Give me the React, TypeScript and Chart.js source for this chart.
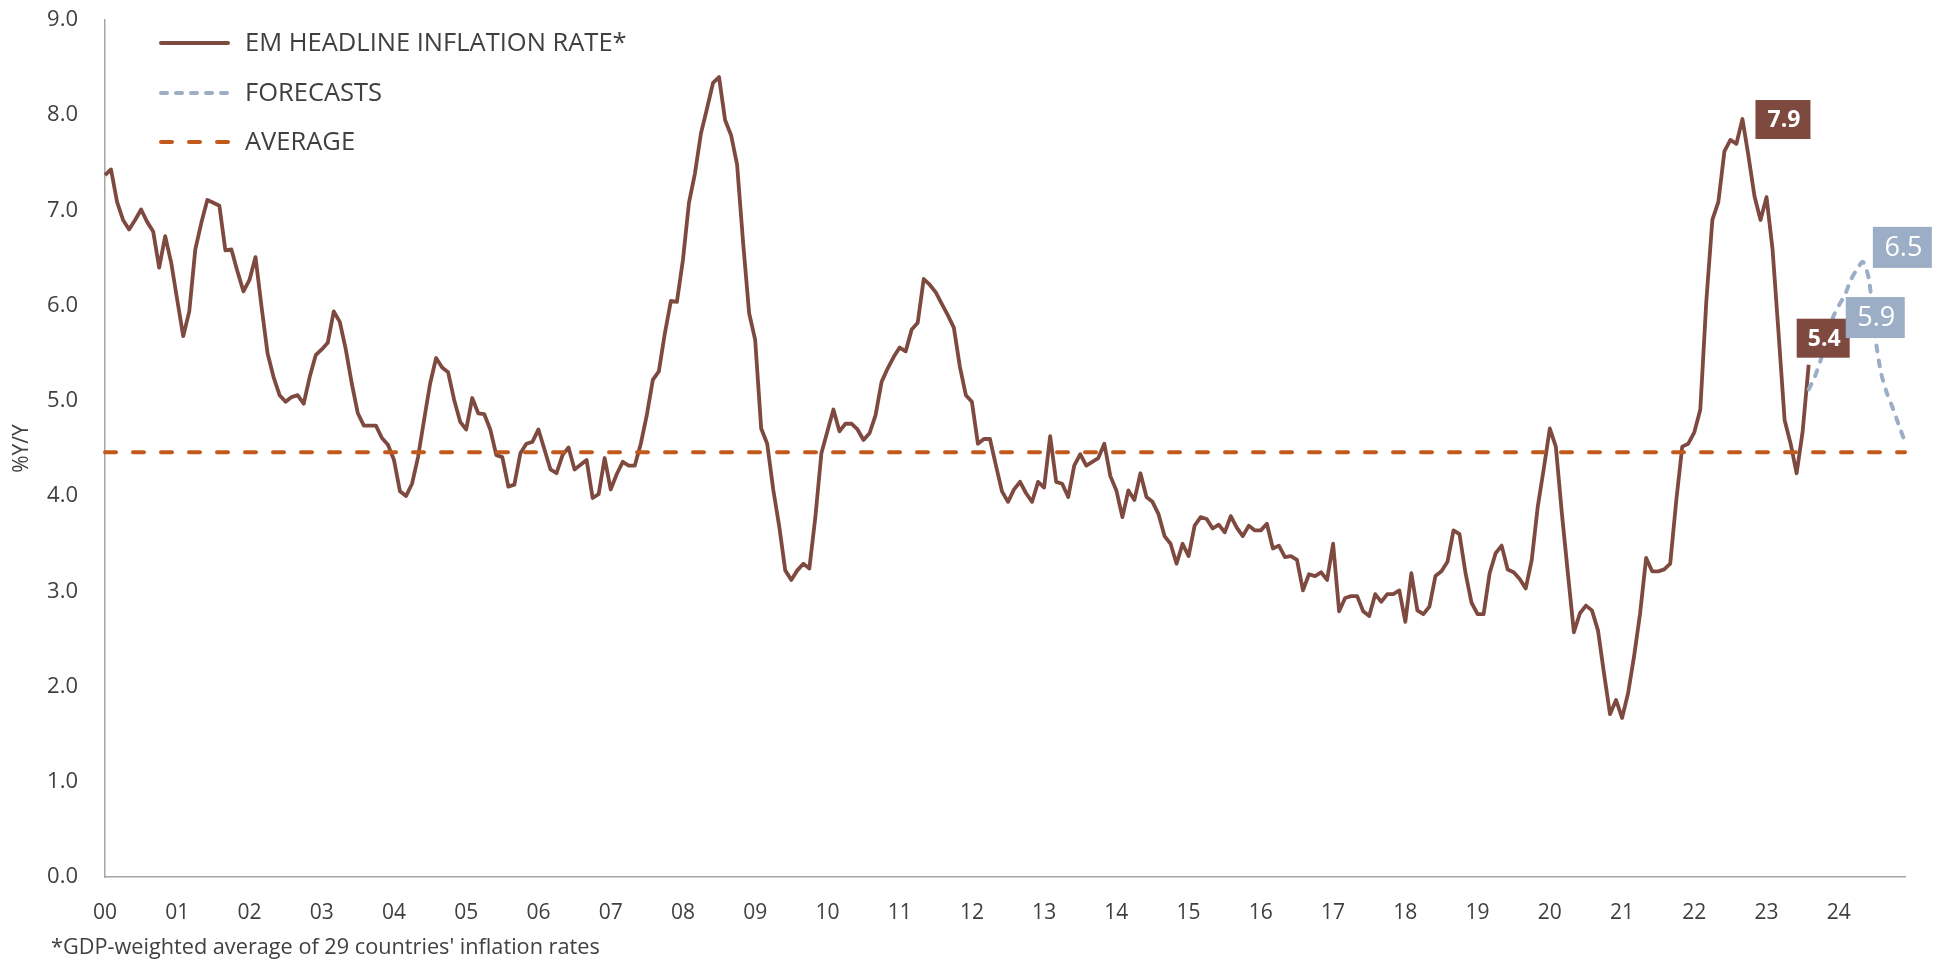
import React, { useEffect, useRef } from 'react';
import { Chart, registerables } from 'chart.js';

Chart.register(...registerables);

// ---------- DATA ----------
const YEAR_LABELS = ['00','01','02','03','04','05','06','07','08','09','10','11','12','13','14','15','16','17','18','19','20','21','22','23','24'];
const MONTHS = ['01','02','03','04','05','06','07','08','09','10','11','12'];
const CATEGORIES = YEAR_LABELS.flatMap((y) => MONTHS.map((m) => `${y}-${m}`));

const ACTUAL = [
  7.37, 7.43, 7.09, 6.90, 6.80, 6.90, 7.01, 6.88, 6.78, 6.40, 6.73, 6.45,
  6.06, 5.68, 5.94, 6.59, 6.87, 7.11, 7.08, 7.05, 6.58, 6.59, 6.36, 6.15,
  6.27, 6.51, 5.99, 5.50, 5.25, 5.06, 4.99, 5.04, 5.06, 4.97, 5.25, 5.48,
  5.54, 5.61, 5.94, 5.83, 5.54, 5.18, 4.87, 4.74, 4.74, 4.74, 4.61, 4.54,
  4.38, 4.05, 4.00, 4.13, 4.41, 4.80, 5.18, 5.45, 5.35, 5.30, 5.01, 4.78,
  4.70, 5.03, 4.87, 4.86, 4.70, 4.43, 4.41, 4.10, 4.12, 4.45, 4.55, 4.57,
  4.70, 4.49, 4.28, 4.24, 4.43, 4.51, 4.28, 4.33, 4.38, 3.98, 4.02, 4.40,
  4.07, 4.23, 4.36, 4.32, 4.32, 4.55, 4.85, 5.22, 5.31, 5.71, 6.05, 6.04,
  6.48, 7.08, 7.39, 7.81, 8.07, 8.34, 8.40, 7.95, 7.79, 7.48, 6.66, 5.92,
  5.64, 4.71, 4.55, 4.07, 3.68, 3.22, 3.12, 3.22, 3.29, 3.24, 3.78, 4.45,
  4.68, 4.91, 4.68, 4.76, 4.76, 4.70, 4.59, 4.66, 4.85, 5.20, 5.34, 5.46,
  5.56, 5.52, 5.75, 5.82, 6.28, 6.22, 6.14, 6.02, 5.90, 5.77, 5.36, 5.06,
  4.99, 4.55, 4.60, 4.60, 4.32, 4.05, 3.94, 4.07, 4.15, 4.03, 3.94, 4.15,
  4.09, 4.63, 4.15, 4.13, 3.99, 4.32, 4.44, 4.32, 4.36, 4.40, 4.55, 4.21,
  4.06, 3.78, 4.06, 3.96, 4.24, 3.99, 3.94, 3.81, 3.58, 3.50, 3.29, 3.50,
  3.37, 3.69, 3.78, 3.76, 3.66, 3.70, 3.62, 3.79, 3.67, 3.58, 3.69, 3.64,
  3.64, 3.71, 3.45, 3.48, 3.36, 3.37, 3.33, 3.01, 3.18, 3.16, 3.20, 3.12,
  3.50, 2.79, 2.93, 2.95, 2.95, 2.79, 2.74, 2.97, 2.89, 2.97, 2.97, 3.01,
  2.68, 3.19, 2.80, 2.76, 2.84, 3.16, 3.21, 3.31, 3.64, 3.60, 3.19, 2.88,
  2.76, 2.76, 3.19, 3.40, 3.48, 3.23, 3.20, 3.13, 3.03, 3.33, 3.89, 4.29,
  4.71, 4.52, 3.82, 3.19, 2.57, 2.77, 2.85, 2.80, 2.59, 2.14, 1.71, 1.86,
  1.67, 1.93, 2.32, 2.77, 3.35, 3.21, 3.21, 3.23, 3.29, 3.95, 4.52, 4.55,
  4.67, 4.91, 6.05, 6.90, 7.09, 7.62, 7.74, 7.70, 7.96, 7.57, 7.15, 6.90,
  7.14, 6.59, 5.71, 4.80, 4.55, 4.24, 4.68, 5.38,
];

const FORECAST_START = 283;
const FORECAST = [5.12, 5.25, 5.43, 5.62, 5.87, 6.00, 6.11, 6.27, 6.38, 6.46, 6.28, 5.70, 5.30, 5.08, 4.92, 4.74, 4.57];

const AVERAGE = 4.46;

const CALLOUTS = [
  { series: 'actual', index: 272, text: '7.9' },
  { series: 'actual', index: 283, text: '5.4' },
  { series: 'forecast', index: 287, text: '5.9' },
  { series: 'forecast', index: 292, text: '6.5' },
];

const LEGEND_LABELS = ['EM HEADLINE INFLATION RATE*', 'FORECASTS', 'AVERAGE'];
const Y_TITLE = '%Y/Y';
const FOOTNOTE = "*GDP-weighted average of 29 countries' inflation rates";

// ---------- STYLE ----------
const FONT = "'Open Sans', 'Noto Sans', sans-serif";
const TEXT = '#404040';
const BROWN = '#7E4A3F';
const BLUE = '#9BAEC5';
const ORANGE = '#C25A1D';
const AXIS = '#A6A6A6';

const CALLOUT_STYLES = [
  { dx: 13, dy: -19, w: 55, h: 39, bg: BROWN, weight: 'bold', size: 23 },
  { dx: -12, dy: -46, w: 53, h: 39, bg: BROWN, weight: 'bold', size: 23 },
  { dx: 13, dy: -21, w: 59, h: 41, bg: BLUE, weight: 'normal', size: 27 },
  { dx: 10, dy: -35, w: 59, h: 41, bg: BLUE, weight: 'normal', size: 27 },
];

const overlayPlugin = {
  id: 'overlay',
  afterDraw(chart: any) {
    const ctx = chart.ctx as CanvasRenderingContext2D;
    const xs = chart.scales.x;
    const ys = chart.scales.y;

    // callouts
    CALLOUTS.forEach((c, k) => {
      const st = CALLOUT_STYLES[k];
      const v = c.series === 'actual' ? ACTUAL[c.index] : FORECAST[c.index - FORECAST_START];
      const px = xs.getPixelForValue(c.index);
      const py = ys.getPixelForValue(v);
      const left = px + st.dx;
      const top = py + st.dy;
      ctx.save();
      ctx.fillStyle = st.bg;
      ctx.fillRect(left, top, st.w, st.h);
      ctx.font = `${st.weight} ${st.size}px ${FONT}`;
      ctx.fillStyle = '#FFFFFF';
      ctx.textAlign = 'center';
      ctx.textBaseline = 'middle';
      ctx.fillText(c.text, left + st.w / 2 + 1, top + st.h / 2 + 1);
      ctx.restore();
    });

    // legend
    const lx0 = 161;
    const lx1 = 228;
    const rows = [43, 93, 142];
    ctx.save();
    ctx.lineCap = 'round';
    ctx.lineWidth = 4;
    ctx.strokeStyle = BROWN;
    ctx.setLineDash([]);
    ctx.beginPath(); ctx.moveTo(lx0, rows[0]); ctx.lineTo(lx1, rows[0]); ctx.stroke();
    ctx.strokeStyle = BLUE;
    ctx.setLineDash([6, 9]);
    ctx.beginPath(); ctx.moveTo(lx0, rows[1]); ctx.lineTo(lx1, rows[1]); ctx.stroke();
    ctx.strokeStyle = ORANGE;
    ctx.setLineDash([11, 17]);
    ctx.beginPath(); ctx.moveTo(lx0, rows[2]); ctx.lineTo(lx1 + 2, rows[2]); ctx.stroke();
    ctx.setLineDash([]);
    ctx.font = `25.5px ${FONT}`;
    ctx.fillStyle = TEXT;
    ctx.textAlign = 'left';
    ctx.textBaseline = 'middle';
    LEGEND_LABELS.forEach((t, k) => ctx.fillText(t, 245, rows[k] + 1));

    // footnote
    ctx.font = `21.7px ${FONT}`;
    ctx.fillText(FOOTNOTE, 51, 948);
    ctx.restore();
  },
};

export default function App() {
  const ref = useRef<HTMLCanvasElement | null>(null);

  useEffect(() => {
    if (!ref.current) return;
    const actualData = CATEGORIES.map((_, i) => (i < ACTUAL.length ? ACTUAL[i] : null));
    const forecastData = CATEGORIES.map((_, i) =>
      i >= FORECAST_START && i < FORECAST_START + FORECAST.length ? FORECAST[i - FORECAST_START] : null
    );
    const averageData = CATEGORIES.map(() => AVERAGE);

    const chart = new Chart(ref.current, {
      type: 'line',
      data: {
        labels: CATEGORIES,
        datasets: [
          {
            label: 'AVERAGE',
            data: averageData,
            borderColor: ORANGE,
            borderWidth: 4,
            borderDash: [11, 17],
            borderCapStyle: 'round',
            pointRadius: 0,
            order: 0,
          },
          {
            label: 'FORECASTS',
            data: forecastData,
            borderColor: BLUE,
            borderWidth: 4,
            borderDash: [6, 9],
            borderCapStyle: 'round',
            pointRadius: 0,
            tension: 0.25,
            order: 1,
          },
          {
            label: 'EM HEADLINE INFLATION RATE*',
            data: actualData,
            borderColor: BROWN,
            borderWidth: 3.8,
            borderJoinStyle: 'round',
            pointRadius: 0,
            tension: 0,
            order: 2,
          },
        ],
      },
      options: {
        responsive: false,
        animation: false,
        layout: { padding: { top: 20, right: 38, bottom: 0, left: 0 } },
        plugins: {
          legend: { display: false },
          tooltip: { enabled: false },
        },
        scales: {
          x: {
            type: 'category',
            grid: { display: false, drawTicks: false },
            border: { display: true, color: AXIS, width: 1.5 },
            ticks: {
              autoSkip: false,
              maxRotation: 0,
              minRotation: 0,
              padding: 23,
              color: TEXT,
              font: { size: 21, family: FONT },
              callback: (_v: any, i: number) => (i % 12 === 0 ? YEAR_LABELS[i / 12] : ''),
            },
            afterFit: (s: any) => {
              s.height = 84;
              s.paddingLeft = 0;
              s.paddingRight = 0;
            },
          },
          y: {
            min: 0,
            max: 9,
            grid: { display: false, drawTicks: false },
            border: { display: true, color: AXIS, width: 1.5 },
            ticks: {
              stepSize: 1,
              padding: 27,
              color: TEXT,
              font: { size: 22, family: FONT },
              callback: (v: any) => Number(v).toFixed(1),
            },
            title: {
              display: true,
              text: Y_TITLE,
              color: TEXT,
              font: { size: 21, family: FONT },
              padding: { top: 9, bottom: 0 },
            },
            afterFit: (s: any) => {
              s.width = 105;
              s.paddingTop = 0;
              s.paddingBottom = 0;
            },
          },
        },
      },
      plugins: [overlayPlugin],
    });
    return () => chart.destroy();
  }, []);

  return (
    <div style={{ position: 'absolute', left: 0, top: 0, width: 1943, height: 961, background: '#fff' }}>
      <canvas ref={ref} width={1943} height={961} style={{ display: 'block' }} />
    </div>
  );
}
